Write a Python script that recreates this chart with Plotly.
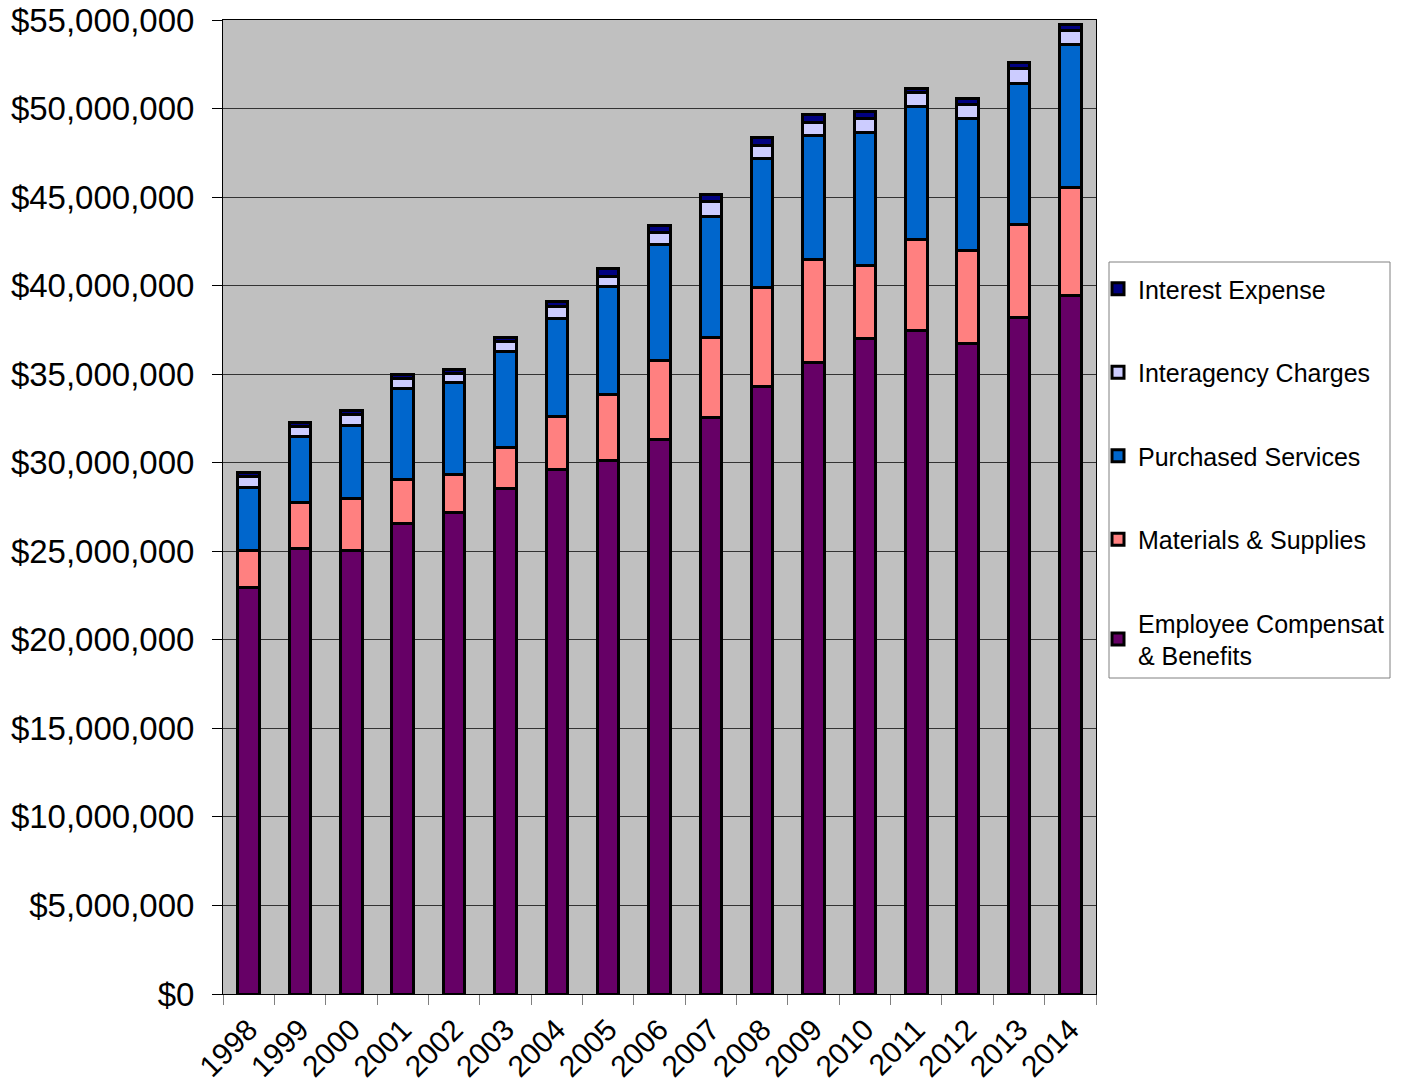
import plotly.graph_objects as go

# Fiscal years
years = ["1998", "1999", "2000", "2001", "2002", "2003", "2004", "2005", "2006",
         "2007", "2008", "2009", "2010", "2011", "2012", "2013", "2014"]

# Expense categories (dollars)
employee_comp = [22970000, 25170000, 25020000, 26580000, 27180000, 28560000, 29630000,
                 30150000, 31340000, 32560000, 34290000, 35670000, 36990000, 37490000,
                 36740000, 38190000, 39430000]
materials = [2060000, 2600000, 2970000, 2500000, 2130000, 2310000, 2970000, 3730000,
             4460000, 4520000, 5590000, 5820000, 4140000, 5130000, 5270000, 5290000,
             6120000]
purchased = [3580000, 3700000, 4140000, 5120000, 5210000, 5400000, 5550000, 6060000,
             6550000, 6810000, 7310000, 6980000, 7510000, 7480000, 7440000, 7950000,
             8040000]
interagency = [600000, 570000, 570000, 570000, 530000, 560000, 660000, 600000, 660000,
               850000, 750000, 750000, 770000, 800000, 790000, 840000, 810000]
interest = [250000, 240000, 240000, 240000, 240000, 250000, 280000, 440000, 410000,
            430000, 430000, 450000, 430000, 240000, 340000, 320000, 320000]

series = [
    ("Employee Compensat<br>& Benefits", employee_comp, "#660066"),
    ("Materials & Supplies", materials, "#FF8080"),
    ("Purchased Services", purchased, "#0066CC"),
    ("Interagency Charges", interagency, "#CCCCFF"),
    ("Interest Expense", interest, "#000080"),
]

FONT = "Liberation Sans, Arial, sans-serif"

W, H = 1410, 1088
L, R, T, B = 223, 314, 20, 94
PW, PH = W - L - R, H - T - B


def px_x(x):
    return (x - L) / PW


def px_y(y):
    return (H - B - y) / PH


fig = go.Figure()
n = len(series)
for i, (name, vals, color) in enumerate(series):
    fig.add_trace(go.Bar(
        x=years, y=vals, name=name, legendgroup=f"g{i}", legendrank=n - i,
        marker=dict(color=color, line=dict(color="black", width=3)),
    ))

# Legend frame
fig.add_shape(
    type="rect", xref="paper", yref="paper",
    x0=px_x(1109), x1=px_x(1390), y0=px_y(678), y1=px_y(262),
    line=dict(color="#808080", width=1), fillcolor="white", layer="below",
)

fig.update_layout(
    width=W, height=H,
    barmode="stack", bargap=0.58,
    paper_bgcolor="white", plot_bgcolor="#C0C0C0",
    margin=dict(l=L, r=R, t=T, b=B, autoexpand=False),
    font=dict(family=FONT, color="black"),
    showlegend=True,
    legend=dict(
        x=px_x(1098), xanchor="left", y=px_y(266), yanchor="top",
        traceorder="grouped", tracegroupgap=48,
        font=dict(family=FONT, size=25, color="black"),
        borderwidth=0, bgcolor="rgba(0,0,0,0)",
        itemwidth=30,
    ),
    xaxis=dict(
        type="category", tickangle=-45, automargin=False,
        tickfont=dict(family=FONT, size=30),
        ticks="outside", tickson="boundaries", ticklen=10, tickcolor="#808080",
        ticklabelstandoff=5,
        showline=True, linecolor="black", linewidth=1, mirror=True,
        showgrid=False,
    ),
    yaxis=dict(
        range=[0, 55000000], dtick=5000000, automargin=False,
        tickprefix="$", tickformat=",.0f",
        tickfont=dict(family=FONT, size=33),
        ticks="outside", ticklen=10, tickcolor="black",
        ticklabelstandoff=11,
        showline=True, linecolor="black", linewidth=1, mirror=True,
        showgrid=True, gridcolor="#333333", gridwidth=1,
        zeroline=False,
    ),
)

fig.write_html("out.html")
